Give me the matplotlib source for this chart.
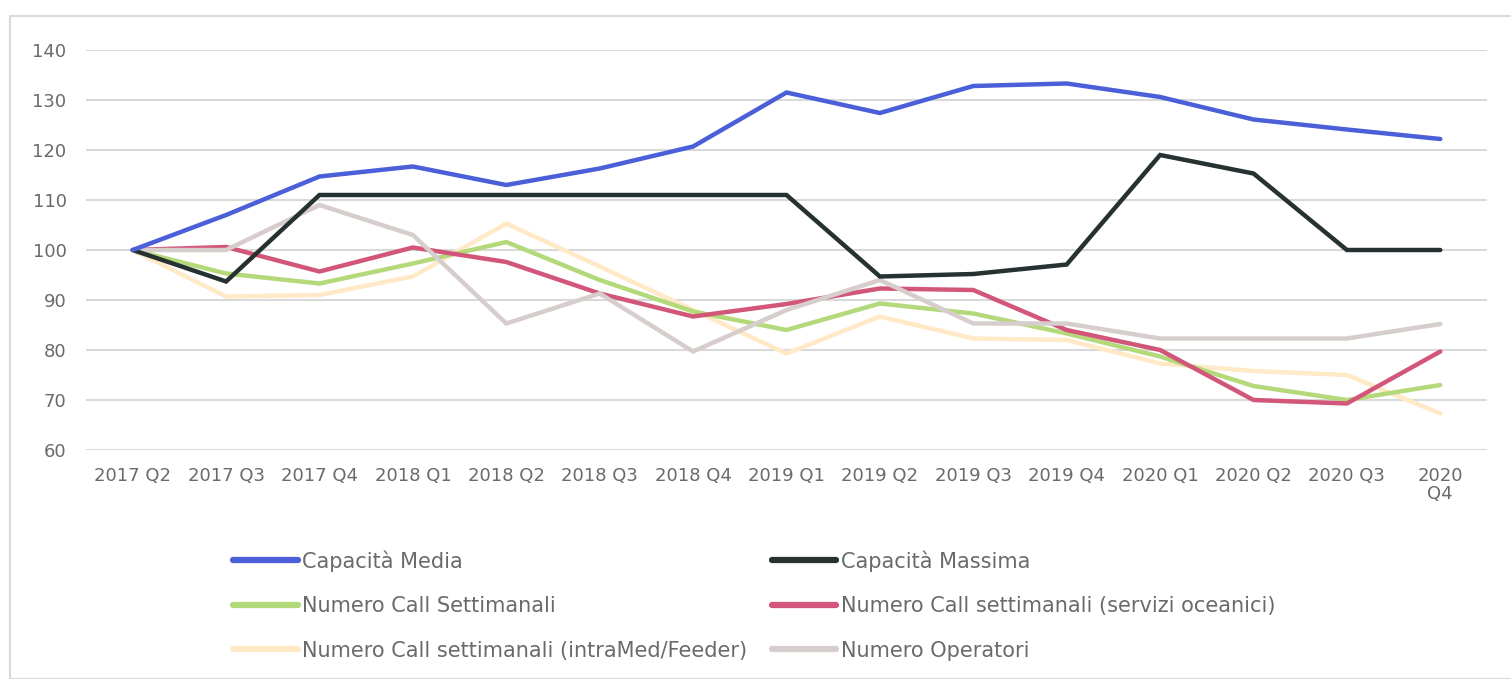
import matplotlib
matplotlib.use("Agg")
import matplotlib.pyplot as plt
from matplotlib.patches import Rectangle

categories = ["2017 Q2", "2017 Q3", "2017 Q4", "2018 Q1", "2018 Q2", "2018 Q3", "2018 Q4",
              "2019 Q1", "2019 Q2", "2019 Q3", "2019 Q4", "2020 Q1", "2020 Q2", "2020 Q3", "2020 Q4"]

capacita_media = [100, 107, 114.7, 116.7, 113, 116.3, 120.7, 131.5, 127.4, 132.8, 133.3, 130.6, 126.1, 124.1, 122.2]
capacita_massima = [100, 93.7, 111, 111, 111, 111, 111, 111, 94.7, 95.2, 97.1, 119, 115.3, 100, 100]
call_settimanali = [100, 95.3, 93.3, 97.3, 101.6, 94, 87.7, 84, 89.3, 87.3, 83.3, 78.7, 72.8, 70, 73]
call_oceanici = [100, 100.6, 95.7, 100.5, 97.6, 91.3, 86.7, 89.2, 92.3, 92, 84, 80, 70, 69.3, 79.7]
call_intramed = [100, 90.7, 91, 94.7, 105.3, 96.7, 88, 79.3, 86.7, 82.3, 82, 77.3, 75.8, 75, 67.3]
numero_operatori = [100, 100, 109, 103, 85.3, 91.3, 79.7, 88, 94, 85.3, 85.3, 82.3, 82.3, 82.3, 85.2]

series_names = ["Capacità Media", "Capacità Massima", "Numero Call Settimanali",
                "Numero Call settimanali (servizi oceanici)",
                "Numero Call settimanali (intraMed/Feeder)", "Numero Operatori"]
series_values = [capacita_media, capacita_massima, call_settimanali, call_oceanici,
                 call_intramed, numero_operatori]
colors = ["#4A5FD8", "#263131", "#B4D97B", "#D25679", "#FFE9C6", "#D6CDCC"]

yticks = [60, 70, 80, 90, 100, 110, 120, 130, 140]

plt.rcParams['font.family'] = ['DejaVu Sans']
text_color = "#6A6A6A"

fig = plt.figure(figsize=(15.11, 6.79), dpi=100)
fig.patches.append(Rectangle((10 / 1511, 0), 1.2, 1 - 16 / 679, transform=fig.transFigure,
                             fill=False, edgecolor="#D9D9D9", linewidth=1.5))

ax = fig.add_axes([86 / 1511, 1 - 450 / 679, (1487 - 86) / 1511, 400 / 679])
x = list(range(len(categories)))
order_z = [6, 5, 2, 3, 1, 4]
lines = []
for name, vals, col, z in zip(series_names, series_values, colors, order_z):
    ln, = ax.plot(x, vals, color=col, linewidth=3.2, label=name, zorder=z,
                  solid_joinstyle="miter", solid_capstyle="round")
    lines.append(ln)

ax.set_xlim(-0.5, len(categories) - 0.5)
ax.set_ylim(60, 140)
ax.set_yticks(yticks)
ax.set_xticks(x)
labels = [c if i < len(categories) - 1 else c.replace(" ", "\n") for i, c in enumerate(categories)]
ax.set_xticklabels(labels, fontsize=13, color=text_color, linespacing=1.05)
ax.tick_params(axis="y", labelsize=13, labelcolor=text_color, length=0, pad=14)
ax.tick_params(axis="x", length=0, pad=12)
ax.grid(axis="y", color="#D9D9D9", linewidth=1.5)
ax.set_axisbelow(True)
for s in ax.spines.values():
    s.set_visible(False)

idx = [0, 2, 4, 1, 3, 5]
leg = fig.legend([lines[i] for i in idx], [series_names[i] for i in idx], ncol=2,
                 loc="upper left", bbox_to_anchor=(233 / 1511, 1 - 550 / 679),
                 frameon=False, fontsize=15, handlelength=3.1, handletextpad=0.2,
                 columnspacing=1.2, labelspacing=1.18, borderaxespad=0, borderpad=0)
for t in leg.get_texts():
    t.set_color(text_color)
for h in leg.get_lines():
    h.set_linewidth(4.5)

fig.savefig("out.png", dpi=100)
